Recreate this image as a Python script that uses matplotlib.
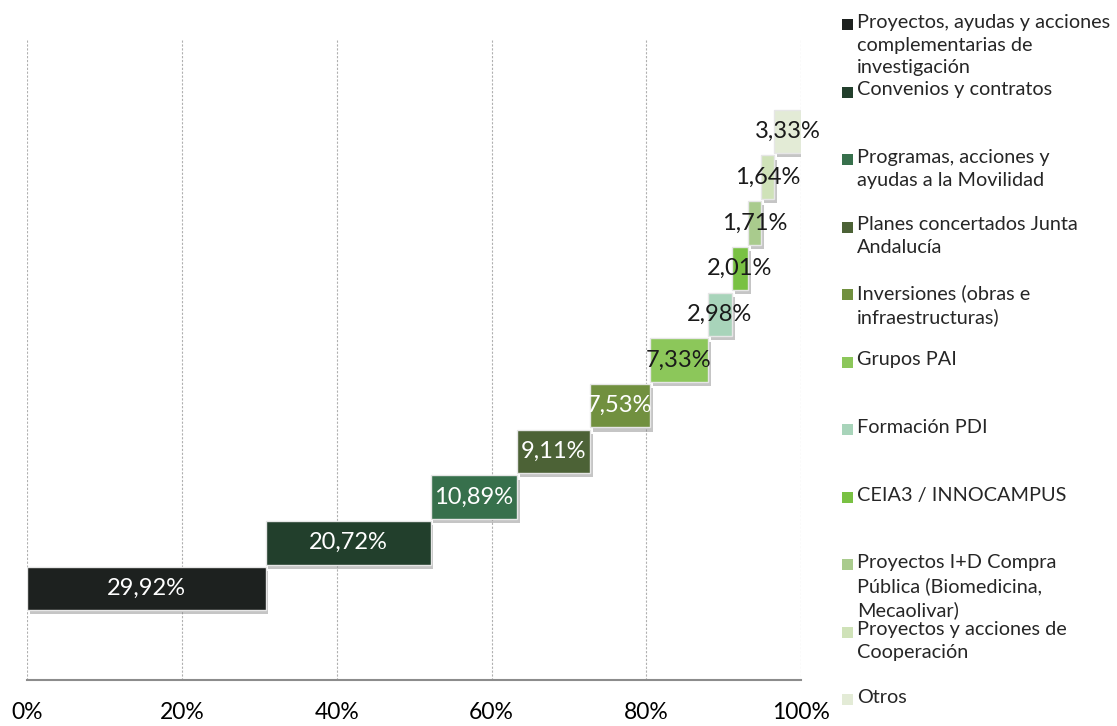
import matplotlib
matplotlib.use("Agg")
import matplotlib.pyplot as plt
import matplotlib.patheffects as pe
from matplotlib.patches import Rectangle
import numpy as np

plt.rcParams['font.family'] = ['Lato', 'DejaVu Sans']

# data
categories = [
    "Proyectos, ayudas y acciones\ncomplementarias de\ninvestigación",
    "Convenios y contratos",
    "Programas, acciones y\nayudas a la Movilidad",
    "Planes concertados Junta\nAndalucía",
    "Inversiones (obras e\ninfraestructuras)",
    "Grupos PAI",
    "Formación PDI",
    "CEIA3 / INNOCAMPUS",
    "Proyectos I+D Compra\nPública (Biomedicina,\nMecaolivar)",
    "Proyectos y acciones de\nCooperación",
    "Otros",
]
values = [29.92, 20.72, 10.89, 9.11, 7.53, 7.33, 2.98, 2.01, 1.71, 1.64, 3.33]
labels = ["29,92%", "20,72%", "10,89%", "9,11%", "7,53%", "7,33%",
          "2,98%", "2,01%", "1,71%", "1,64%", "3,33%"]
colors = ["#1d211f", "#223f2c", "#37704c", "#4c6236", "#71903f", "#8cc75a",
          "#a8d4ba", "#79c143", "#a9cb8d", "#cfe2b8", "#e3ebd6"]
xticks = [0, 20, 40, 60, 80, 100]
xticklabels = ["0%", "20%", "40%", "60%", "80%", "100%"]

vals = np.array(values)
share = vals / vals.sum() * 100
left = np.concatenate([[0], np.cumsum(share)[:-1]])
rows = np.arange(len(values))

fig = plt.figure(figsize=(11.17, 7.26), dpi=100)
ax = fig.add_axes([0.0246, 0.0634, 0.6925, 0.8815])

for x in xticks:
    ax.axvline(x, color="#b0b0b0", lw=0.8, ls=(0, (2, 1.5)), zorder=0)

bars = ax.barh(rows, share, left=left, height=0.95, color=colors,
               edgecolor="#e6e6e6", linewidth=1, zorder=2)
for b in bars:
    b.set_path_effects([pe.SimplePatchShadow(offset=(2, -3), shadow_rgbFace="#808080", alpha=0.45),
                        pe.Normal()])

for i, b in enumerate(bars):
    cx = b.get_x() + b.get_width() / 2
    ax.text(cx, b.get_y() + b.get_height() / 2, labels[i], ha="center", va="center",
            fontsize=17, color="white" if i < 5 else "#1a1a1a", zorder=3)

ax.set_xlim(0, 100)
ax.set_ylim(-2, 12)
ax.set_yticks([])
ax.set_xticks(xticks)
ax.set_xticklabels(xticklabels, fontsize=16.5)
ax.tick_params(axis="x", length=0, pad=16)
for s in ["top", "right", "left"]:
    ax.spines[s].set_visible(False)
ax.spines["bottom"].set_color("#8c8c8c")
ax.spines["bottom"].set_linewidth(1.5)

# legend drawn by hand to keep the Excel spacing
W, H = 1117, 726
for i, (name, c) in enumerate(zip(categories, colors)):
    y = 25 + 67.5 * i
    fig.patches.append(Rectangle((842 / W, 1 - (y + 5) / H), 11 / W, 11 / H,
                                 transform=fig.transFigure, facecolor=c,
                                 edgecolor="none"))
    fig.text(857 / W, 1 - (y - 11) / H, name, fontsize=14.3, color="#262626",
             va="top", ha="left", linespacing=1.4)

fig.savefig("out.png", dpi=100)
